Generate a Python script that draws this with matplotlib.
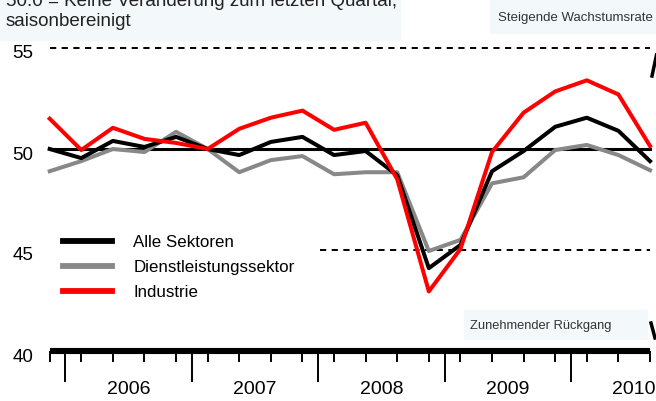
import matplotlib
matplotlib.use('Agg')
import matplotlib.pyplot as plt
from matplotlib.lines import Line2D
from matplotlib.patches import Rectangle
from matplotlib.transforms import ScaledTranslation

# quarters Q4 2005 .. Q3 2010
quarters = list(range(20))
year_labels = ['2006', '2007', '2008', '2009', '2010']
year_centers = [2.5, 6.5, 10.5, 14.5, 18.5]
year_bounds = [0.5, 4.5, 8.5, 12.5, 16.5]
y_ticks = [40, 45, 50, 55]

alle = [50.0, 49.55, 50.4, 50.1, 50.6, 50.0, 49.7, 50.35, 50.6, 49.7,
        49.9, 48.7, 44.1, 45.25, 48.9, 49.9, 51.1, 51.55, 50.9, 49.4]
dienst = [48.9, 49.4, 50.0, 49.85, 50.85, 50.0, 48.85, 49.45, 49.65, 48.75,
          48.85, 48.85, 44.95, 45.5, 48.3, 48.6, 49.95, 50.2, 49.7, 48.95]
industrie = [51.5, 49.95, 51.05, 50.5, 50.3, 50.0, 51.0, 51.55, 51.9, 50.95,
             51.3, 48.5, 42.95, 45.05, 49.85, 51.8, 52.85, 53.4, 52.7, 50.15]

names = ['Alle Sektoren', 'Dienstleistungssektor', 'Industrie']
colors = ['black', '#888888', '#ff0000']

font = ['Liberation Sans', 'DejaVu Sans']

W, H = 656, 401
def fx(px):
    return px / W
def fy(py):
    return 1 - py / H

fig = plt.figure(figsize=(6.56, 4.01), dpi=100)
fig.patch.set_facecolor('white')

# light boxes behind the notes
bg = '#f3f8fb'
for (x0, y0, x1, y1) in [(0, 0, 400, 40), (490, 0, 656, 33), (464, 310, 647, 339)]:
    fig.patches.append(Rectangle((fx(x0), fy(y1)), fx(x1) - fx(x0), fy(y0) - fy(y1),
                                 transform=fig.transFigure, color=bg, zorder=-5))

ax = fig.add_axes([fx(49.7), fy(351), fx(650) - fx(49.7), fy(48) - fy(351)])
ax.patch.set_visible(False)
ax.set_xlim(0, 19)
ax.set_ylim(40, 55)

for s in ['top', 'right', 'left']:
    ax.spines[s].set_visible(False)
ax.spines['bottom'].set_linewidth(4.4)
ax.spines['bottom'].set_capstyle('butt')

ax.set_xticks(quarters)
ax.set_xticklabels([])
ax.set_xticks(year_bounds, minor=True)
ax.tick_params(axis='x', which='major', direction='out', length=8, width=1.4)
ax.tick_params(axis='x', which='minor', direction='out', length=22, width=1.4)

ax.set_yticks(y_ticks)
ax.set_yticklabels([str(v) for v in y_ticks], fontfamily=font, fontsize=13.5)
ax.tick_params(axis='y', length=0, pad=12)
for lab in ax.get_yticklabels():
    lab.set_transform(lab.get_transform() + ScaledTranslation(0, -0.04, fig.dpi_scale_trans))

for c, lab in zip(year_centers, year_labels):
    ax.text(c, -0.128, lab, transform=ax.get_xaxis_transform(), ha='center', va='center',
            fontfamily=font, fontsize=14)

# reference lines
ax.axhline(50, color='black', lw=2.2, zorder=1, clip_on=False)
ax.axhline(55, color='black', lw=1.4, ls=(0, (3.2, 2.8)), clip_on=False, zorder=1)
ax.axhline(45, xmin=(320 - 49.7) / 600.3, color='black', lw=1.4, ls=(0, (3.2, 2.8)),
           clip_on=False, zorder=1)

ax.plot(quarters, dienst, color=colors[1], lw=2.9, zorder=2, clip_on=False)
ax.plot(quarters, alle, color=colors[0], lw=2.9, zorder=3, clip_on=False)
ax.plot(quarters, industrie, color=colors[2], lw=2.9, zorder=4, clip_on=False)

handles = [Line2D([], [], color=c, lw=4.2) for c in colors]
ax.legend(handles, names, loc='upper left', bbox_to_anchor=(fx(63), fy(235)),
          bbox_transform=fig.transFigure, frameon=False, borderpad=0, borderaxespad=0,
          handlelength=2.9, handletextpad=1.25, labelspacing=0.6,
          prop={'family': font, 'size': 12.2})

# notes
fig.text(fx(6), fy(6.5), '50.0 = Keine Veränderung zum letzten Quartal,', va='baseline',
         fontfamily=font, fontsize=13.5, color='#222222')
fig.text(fx(6), fy(26.5), 'saisonbereinigt', va='baseline',
         fontfamily=font, fontsize=13.5, color='#222222')
fig.text(fx(653), fy(18), 'Steigende Wachstumsrate', ha='right', va='center',
         fontfamily=font, fontsize=9.5, color='#333333')
fig.text(fx(470), fy(326), 'Zunehmender Rückgang', ha='left', va='center',
         fontfamily=font, fontsize=9.3, color='#333333')

# arrow heads cut at the right edge
fig.lines.append(Line2D([fx(652), fx(656.5)], [fy(76), fy(55)], transform=fig.transFigure,
                        color='black', lw=2.5))
fig.lines.append(Line2D([fx(651), fx(655)], [fy(323), fy(338)], transform=fig.transFigure,
                        color='black', lw=2.5))

fig.savefig('out.png', dpi=100)
